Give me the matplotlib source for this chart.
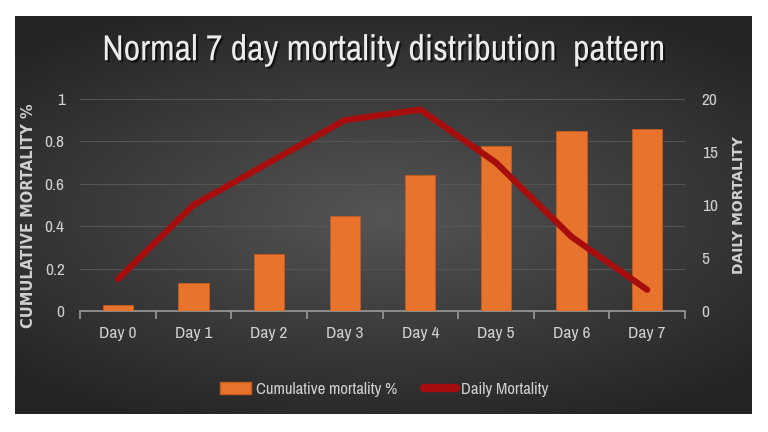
import numpy as np
import matplotlib.pyplot as plt
import matplotlib.patheffects as pe
from matplotlib.patches import Patch
from matplotlib.lines import Line2D
from matplotlib.colors import LinearSegmentedColormap
from matplotlib import font_manager

plt.rcParams['font.family'] = ['DejaVu Sans']

days = ['Day 0', 'Day 1', 'Day 2', 'Day 3', 'Day 4', 'Day 5', 'Day 6', 'Day 7']
cumulative = [0.03, 0.13, 0.27, 0.45, 0.64, 0.78, 0.85, 0.86]
daily = [3, 10, 14, 18, 19, 14, 7, 2]

txt = '#d0d0d0'
orange = '#e8732c'
red = '#a80d0d'

# pick a narrow face, close to the original's Calibri look
names = sorted({f.name for f in font_manager.fontManager.ttflist})
narrow = 'DejaVu Sans'
for n in names:
    if 'Narrow' in n or 'Condensed' in n:
        narrow = n
        break

fig = plt.figure(figsize=(7.68, 4.32), dpi=100)
fig.patch.set_facecolor('white')

# dark panel with a soft radial gradient
bg = fig.add_axes([15 / 768, 18 / 432, 737 / 768, 398 / 432])
yy, xx = np.mgrid[-1:1:200j, -1:1:300j]
r = np.sqrt((xx / 1.1) ** 2 + (yy / 0.9) ** 2)
cm = LinearSegmentedColormap.from_list('panel', ['#555555', '#3c3c3c', '#242424'])
bg.imshow(r, cmap=cm, vmin=0, vmax=1.3, aspect='auto', extent=(0, 1, 0, 1))
bg.set_axis_off()

ax = fig.add_axes([80 / 768, 121 / 432, 605 / 768, 212 / 432])
ax.patch.set_alpha(0)
x = np.arange(len(days))
ax.bar(x, cumulative, width=0.4, color=orange, edgecolor='#c85a1c', linewidth=0.6, zorder=3)
ax.set_ylim(0, 1)
ax.set_xlim(-0.5, len(days) - 0.5)
ax.set_yticks([0, 0.2, 0.4, 0.6, 0.8, 1])
ax.set_yticklabels(['0', '0.2', '0.4', '0.6', '0.8', '1'])
ax.grid(axis='y', color='#555555', linewidth=0.8, zorder=0)
for s in ['top', 'right', 'left']:
    ax.spines[s].set_visible(False)
ax.spines['bottom'].set_color('#9a9a9a')
ax.spines['bottom'].set_linewidth(1.2)
ax.set_xticks(x)
ax.set_xticklabels(days)
ax.set_xticks(np.arange(-0.5, len(days), 1), minor=True)
ax.tick_params(axis='x', which='major', length=0, pad=11, colors=txt, labelsize=12.5)
ax.tick_params(axis='x', which='minor', length=6, color='#9a9a9a', width=1.2)
ax.tick_params(axis='y', length=0, colors=txt, labelsize=12.5, pad=11)
for lab in ax.get_xticklabels() + ax.get_yticklabels():
    lab.set_family(narrow)
ax.set_ylabel('CUMULATIVE MORTALITY %', color=txt, fontsize=10.5, fontweight='bold',
              labelpad=2)
ax.yaxis.set_label_coords(-0.072, 0.45)

ax2 = ax.twinx()
ax2.plot(x, daily, color=red, linewidth=4.5, solid_capstyle='round', zorder=4)
ax2.set_ylim(0, 20)
ax2.set_yticks([0, 5, 10, 15, 20])
for s in ax2.spines.values():
    s.set_visible(False)
ax2.tick_params(axis='y', length=0, colors=txt, labelsize=12.5, pad=12)
for lab in ax2.get_yticklabels():
    lab.set_family(narrow)
ax2.set_ylabel('DAILY MORTALITY', color=txt, fontsize=10, fontweight='bold',
               labelpad=10)

fig.text(0.5, 0.885, 'Normal 7 day mortality distribution  pattern', ha='center', va='center',
         color='#ececec', fontsize=26, family=narrow,
         path_effects=[pe.withSimplePatchShadow(offset=(1.5, -1.5), shadow_rgbFace='black', alpha=0.6)])

handles = [Patch(facecolor=orange, edgecolor='#c85a1c', label='Cumulative mortality %'),
           Line2D([0], [0], color=red, linewidth=6, solid_capstyle='round', label='Daily Mortality')]
leg = fig.legend(handles=handles, loc='center', bbox_to_anchor=(0.5, 0.098), ncol=2,
                 frameon=False, labelcolor=txt, handlelength=1.9,
                 columnspacing=1.6, handletextpad=0.3, prop={'family': narrow, 'size': 12})

fig.savefig('out.png', dpi=100, facecolor='white')
